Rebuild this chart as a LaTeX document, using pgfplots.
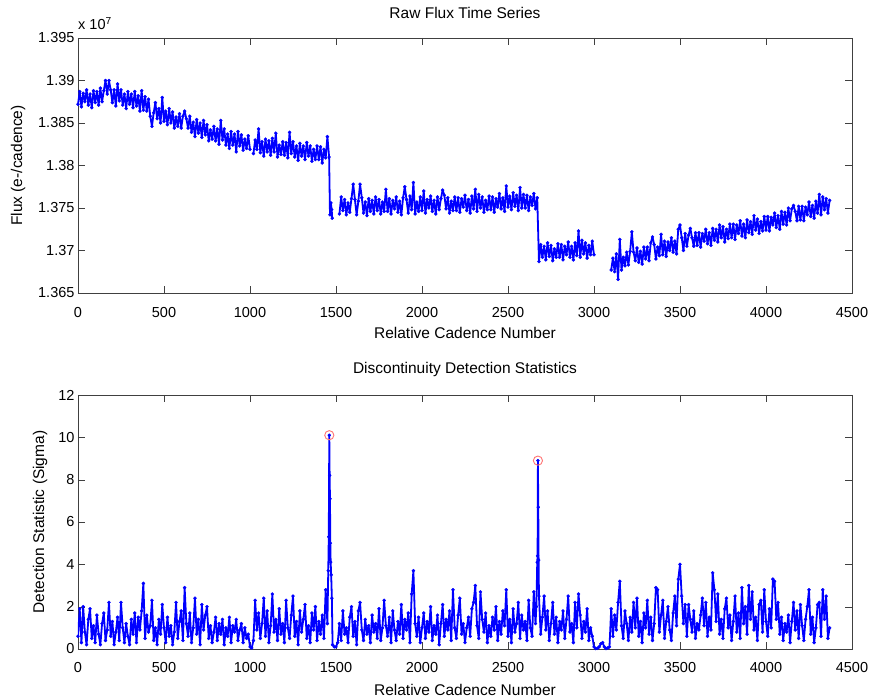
\documentclass[border=0pt]{standalone}
\usepackage{fontspec}
\setmainfont{Liberation Sans}
\usepackage{pgfplots}
\pgfplotsset{compat=1.18}

\pgfplotsset{
  matlab/.style={
    scale only axis, width=774pt,
    xmin=0, xmax=4500, xtick={0,500,...,4500},
    tick align=inside, major tick length=7pt,
    axis line style={black!75}, tick style={black!75},
    every tick label/.append style={font=\fontsize{14.5}{17}\selectfont},
    label style={font=\fontsize{15.5}{18}\selectfont},
    title style={font=\fontsize{15.5}{18}\selectfont},
    /pgf/number format/assume math mode=true,
    /pgf/number format/set thousands separator={},
  },
  raw/.style={color=blue, line width=1.8pt, line join=round, mark=*, mark size=1.6pt,
    mark options={draw=blue, fill=blue, line width=0.3pt}},
}

\begin{document}
\begin{tikzpicture}
\path[use as bounding box] (-78pt,-407pt) rectangle (795pt,293pt);

% top panel
\begin{axis}[matlab, height=255pt,
  ymin=1.365, ymax=1.395,
  ytick={1.365,1.37,1.375,1.38,1.385,1.39,1.395},
  yticklabel style={/pgf/number format/.cd, fixed, precision=3},
  xticklabel style={yshift=-11pt},
  title={Raw Flux Time Series},
  title style={at={(axis description cs:0.5,1.0745)}, anchor=center},
  xlabel={Relative Cadence Number},
  xlabel style={at={(axis description cs:0.5,-0.157)}, anchor=center},
  ylabel={Flux (e-/cadence)},
  ylabel style={at={(axis description cs:-0.0775,0.5)}, anchor=center},
  clip=false]
\addplot[raw] coordinates {
(0,1.3872)(10,1.3887)(20,1.3869)(30,1.3885)(40,1.3875)(50,1.3889)(60,1.3871)(70,1.3884)(80,1.3868)(90,1.3888)
(100,1.3874)(110,1.3887)(120,1.3871)(130,1.3891)(140,1.3875)(150,1.3888)(160,1.3900)(170,1.3884)(180,1.3900)(190,1.3889)
(200,1.3874)(210,1.3889)(220,1.3870)(230,1.3896)(240,1.3876)(250,1.3889)(260,1.3871)(270,1.3884)(280,1.3867)(290,1.3887)
(300,1.3872)(310,1.3884)(320,1.3868)(330,1.3887)(340,1.3870)(350,1.3882)(360,1.3864)(370,1.3888)(380,1.3865)(390,1.3881)
(400,1.3864)(410,1.3878)(420,1.3858)(430,1.3846)(440,1.3862)(450,1.3874)(460,1.3855)(470,1.3867)(480,1.3850)(490,1.3880)
(500,1.3852)(510,1.3864)(520,1.3848)(530,1.3867)(540,1.3850)(550,1.3863)(560,1.3844)(570,1.3857)(580,1.3846)(590,1.3861)
(600,1.3844)(610,1.3858)(620,1.3864)(630,1.3855)(640,1.3844)(650,1.3858)(660,1.3839)(670,1.3851)(680,1.3834)(690,1.3854)
(700,1.3838)(710,1.3850)(720,1.3833)(730,1.3853)(740,1.3836)(750,1.3848)(760,1.3829)(770,1.3842)(780,1.3831)(790,1.3846)
(800,1.3829)(810,1.3843)(820,1.3825)(830,1.3853)(840,1.3830)(850,1.3843)(860,1.3824)(870,1.3837)(880,1.3820)(890,1.3840)
(900,1.3824)(910,1.3837)(920,1.3816)(930,1.3840)(940,1.3823)(950,1.3836)(960,1.3818)(970,1.3831)(980,1.3820)(990,1.3835)
(1000,1.3819)};
\addplot[raw] coordinates {
(1020,1.3814)(1030,1.3830)(1040,1.3819)(1050,1.3843)(1060,1.3815)(1070,1.3828)(1080,1.3811)(1090,1.3831)
(1100,1.3816)(1110,1.3829)(1120,1.3812)(1130,1.3832)(1140,1.3816)(1150,1.3838)(1160,1.3810)(1170,1.3824)(1180,1.3813)(1190,1.3828)
(1200,1.3812)(1210,1.3827)(1220,1.3809)(1230,1.3839)(1240,1.3814)(1250,1.3828)(1260,1.3810)(1270,1.3823)(1280,1.3806)(1290,1.3826)
(1300,1.3811)(1310,1.3823)(1320,1.3807)(1330,1.3827)(1340,1.3811)(1350,1.3823)(1360,1.3805)(1370,1.3819)(1380,1.3807)(1390,1.3823)
(1400,1.3807)(1410,1.3822)(1420,1.3803)(1430,1.3819)(1440,1.3809)(1450,1.3834)(1460,1.3810)
(1465,1.3742)(1470,1.3756)(1475,1.3748)(1478,1.3738)};
\addplot[raw] coordinates {
(1520,1.3743)(1530,1.3763)(1540,1.3747)(1550,1.3760)(1560,1.3742)(1570,1.3756)(1580,1.3745)(1590,1.3761)
(1600,1.3778)(1610,1.3760)(1620,1.3742)(1630,1.3758)(1640,1.3778)(1650,1.3762)(1660,1.3744)(1670,1.3757)(1680,1.3741)(1690,1.3761)
(1700,1.3746)(1710,1.3759)(1720,1.3743)(1730,1.3763)(1740,1.3747)(1750,1.3760)(1760,1.3743)(1770,1.3757)(1780,1.3746)(1790,1.3772)
(1800,1.3746)(1810,1.3761)(1820,1.3743)(1830,1.3759)(1840,1.3749)(1850,1.3763)(1860,1.3745)(1870,1.3758)(1880,1.3742)(1890,1.3762)
(1900,1.3775)(1910,1.3760)(1920,1.3744)(1930,1.3764)(1940,1.3748)(1950,1.3780)(1960,1.3743)(1970,1.3757)(1980,1.3746)(1990,1.3763)
(2000,1.3747)(2010,1.3770)(2020,1.3744)(2030,1.3760)(2040,1.3750)(2050,1.3764)(2060,1.3746)(2070,1.3759)(2080,1.3743)(2090,1.3763)
(2100,1.3748)(2110,1.3761)(2120,1.3771)(2130,1.3765)(2140,1.3749)(2150,1.3762)(2160,1.3744)(2170,1.3758)(2180,1.3747)(2190,1.3763)
(2200,1.3747)(2210,1.3762)(2220,1.3745)(2230,1.3761)(2240,1.3751)(2250,1.3765)(2260,1.3747)(2270,1.3760)(2280,1.3744)(2290,1.3764)
(2300,1.3749)(2310,1.3772)(2320,1.3746)(2330,1.3766)(2340,1.3750)(2350,1.3763)(2360,1.3745)(2370,1.3759)(2380,1.3748)(2390,1.3764)
(2400,1.3748)(2410,1.3763)(2420,1.3745)(2430,1.3761)(2440,1.3751)(2450,1.3767)(2460,1.3749)(2470,1.3762)(2480,1.3746)(2490,1.3776)
(2500,1.3751)(2510,1.3764)(2520,1.3748)(2530,1.3768)(2540,1.3752)(2550,1.3765)(2560,1.3747)(2570,1.3774)(2580,1.3750)(2590,1.3766)
(2600,1.3750)(2610,1.3765)(2620,1.3747)(2630,1.3763)(2640,1.3753)(2650,1.3767)(2660,1.3749)(2670,1.3762)
(2680,1.3687)(2690,1.3707)(2700,1.3692)(2710,1.3705)(2720,1.3689)(2730,1.3709)(2740,1.3693)(2750,1.3706)(2760,1.3688)(2770,1.3702)
(2780,1.3692)(2790,1.3708)(2800,1.3692)(2810,1.3707)(2820,1.3689)(2830,1.3705)(2840,1.3695)(2850,1.3710)(2860,1.3692)(2870,1.3705)
(2880,1.3689)(2890,1.3709)(2900,1.3694)(2910,1.3723)(2920,1.3692)(2930,1.3712)(2940,1.3696)(2950,1.3709)(2960,1.3691)(2970,1.3706)
(2980,1.3695)(2990,1.3711)(3000,1.3695)};
\addplot[raw] coordinates {
(3100,1.3677)(3110,1.3691)(3120,1.3675)(3130,1.3696)(3140,1.3666)(3150,1.3713)(3160,1.3677)(3170,1.3692)(3180,1.3682)(3190,1.3698)
(3200,1.3683)(3210,1.3699)(3220,1.3722)(3230,1.3698)(3240,1.3688)(3250,1.3703)(3260,1.3686)(3270,1.3699)(3280,1.3684)(3290,1.3704)
(3300,1.3690)(3310,1.3704)(3320,1.3688)(3330,1.3709)(3340,1.3716)(3350,1.3707)(3360,1.3690)(3370,1.3704)(3380,1.3694)(3390,1.3719)
(3400,1.3695)(3410,1.3711)(3420,1.3693)(3430,1.3710)(3440,1.3700)(3450,1.3715)(3460,1.3698)(3470,1.3711)(3480,1.3696)(3490,1.3725)
(3500,1.3730)(3510,1.3715)(3520,1.3700)(3530,1.3720)(3540,1.3705)(3550,1.3718)(3560,1.3726)(3570,1.3715)(3580,1.3705)(3590,1.3721)
(3600,1.3706)(3610,1.3721)(3620,1.3704)(3630,1.3720)(3640,1.3711)(3650,1.3725)(3660,1.3708)(3670,1.3721)(3680,1.3706)(3690,1.3726)
(3700,1.3712)(3710,1.3725)(3720,1.3710)(3730,1.3730)(3740,1.3715)(3750,1.3728)(3760,1.3710)(3770,1.3725)(3780,1.3714)(3790,1.3731)
(3800,1.3715)(3810,1.3731)(3820,1.3713)(3830,1.3730)(3840,1.3720)(3850,1.3735)(3860,1.3717)(3870,1.3731)(3880,1.3715)(3890,1.3736)
(3900,1.3721)(3910,1.3734)(3920,1.3719)(3930,1.3741)(3940,1.3724)(3950,1.3737)(3960,1.3720)(3970,1.3734)(3980,1.3723)(3990,1.3740)
(4000,1.3724)(4010,1.3740)(4020,1.3723)(4030,1.3739)(4040,1.3730)(4050,1.3744)(4060,1.3727)(4070,1.3741)(4080,1.3725)(4090,1.3746)
(4100,1.3731)(4110,1.3745)(4120,1.3730)(4130,1.3750)(4140,1.3735)(4150,1.3749)(4160,1.3753)(4170,1.3746)(4180,1.3735)(4190,1.3752)
(4200,1.3736)(4210,1.3752)(4220,1.3735)(4230,1.3751)(4240,1.3742)(4250,1.3757)(4260,1.3740)(4270,1.3753)(4280,1.3738)(4290,1.3758)
(4300,1.3744)(4310,1.3766)(4320,1.3742)(4330,1.3763)(4340,1.3748)(4350,1.3761)(4360,1.3744)(4370,1.3759)};
\node[anchor=south west, inner sep=0pt, font=\fontsize{14.5}{17}\selectfont]
  at ([yshift=8pt]rel axis cs:0,1) {x 10\textsuperscript{7}};
\end{axis}

% bottom panel
\begin{axis}[matlab, height=254pt, at={(0,-356pt)},
  ymin=0, ymax=12, ytick={0,2,...,12},
  xticklabel style={yshift=-10pt},
  title={Discontinuity Detection Statistics},
  title style={at={(axis description cs:0.5,1.078)}, anchor=center},
  xlabel={Relative Cadence Number},
  xlabel style={at={(axis description cs:0.5,-0.161)}, anchor=center},
  ylabel={Detection Statistic (Sigma)},
  ylabel style={at={(axis description cs:-0.049,0.5)}, anchor=center}]
\addplot[raw] coordinates {
(0,0.6)(10,1.9)(20,0.3)(30,2.0)(40,0.8)(50,0.2)(60,1.4)(70,1.9)(80,0.5)(90,1.1)
(100,0.3)(110,1.6)(120,0.7)(130,0.2)(140,1.2)(150,1.7)(160,0.4)(170,0.9)(180,2.2)(190,0.6)
(200,1.3)(210,0.2)(220,0.8)(230,1.5)(240,0.4)(250,2.2)(260,1.0)(270,0.3)(280,1.2)(290,0.6)
(300,0.2)(310,1.4)(320,0.7)(330,1.7)(340,0.3)(350,1.5)(360,0.9)(370,1.8)(380,3.1)(390,0.5)
(400,1.6)(410,0.8)(420,1.1)(430,2.3)(440,0.4)(450,1.0)(460,0.2)(470,1.4)(480,0.7)(490,2.1)
(500,1.0)(510,0.3)(520,1.5)(530,0.6)(540,1.1)(550,0.2)(560,0.8)(570,2.2)(580,0.5)(590,1.3)
(600,1.8)(610,0.4)(620,2.9)(630,1.2)(640,0.6)(650,1.7)(660,0.3)(670,1.0)(680,2.4)(690,0.7)
(700,1.4)(710,0.2)(720,2.1)(730,0.9)(740,1.6)(750,2.0)(760,0.5)(770,1.1)(780,0.3)(790,0.8)
(800,1.5)(810,0.4)(820,1.2)(830,0.7)(840,1.4)(850,0.2)(860,1.0)(870,0.6)(880,1.5)(890,0.3)
(900,1.1)(910,0.8)(920,1.4)(930,0.4)(940,0.9)(950,1.2)(960,0.3)(970,1.0)(980,0.5)(990,0.7)
(1000,0.1)(1010,0.05)(1020,0.4)(1030,2.3)(1040,0.9)(1050,1.7)(1060,0.5)(1070,1.2)(1080,2.4)(1090,0.6)
(1100,1.8)(1110,0.3)(1120,1.1)(1130,2.6)(1140,0.8)(1150,1.4)(1160,0.4)(1170,1.9)(1180,0.7)(1190,1.2)
(1200,0.3)(1210,2.3)(1220,1.0)(1230,0.5)(1240,1.6)(1250,2.5)(1260,0.6)(1270,1.3)(1280,0.2)(1290,1.8)
(1300,0.8)(1310,1.4)(1320,2.1)(1330,0.5)(1340,1.1)(1350,0.3)(1360,1.7)(1370,0.9)(1380,2.0)(1390,0.4)
(1400,1.3)(1410,0.7)(1420,1.6)(1430,0.5)(1440,2.8)(1450,1.2)(1455,3.7)(1458,5.3)(1461,10.1)(1463,8.2)
(1465,7.1)(1467,5.0)(1469,4.1)(1472,3.5)(1476,2.4)(1480,0.2)(1490,0.1)(1500,0.1)(1510,0.3)
(1520,1.2)(1530,0.4)(1540,1.8)(1550,0.7)(1560,1.0)(1570,0.3)(1580,1.5)(1590,2.0)
(1600,0.6)(1610,1.3)(1620,0.2)(1630,1.8)(1640,2.2)(1650,0.9)(1660,0.4)(1670,1.4)(1680,0.7)(1690,1.1)
(1700,0.3)(1710,1.6)(1720,0.8)(1730,1.2)(1740,0.5)(1750,1.9)(1760,0.4)(1770,1.0)(1780,2.3)(1790,1.1)
(1800,0.6)(1810,1.5)(1820,0.3)(1830,1.8)(1840,0.9)(1850,0.4)(1860,1.3)(1870,0.7)(1880,2.1)(1890,0.5)
(1900,1.4)(1910,0.9)(1920,1.7)(1930,0.3)(1940,2.6)(1950,3.7)(1960,1.2)(1970,0.6)(1980,1.5)(1990,0.3)
(2000,1.0)(2010,1.7)(2020,0.5)(2030,1.3)(2040,0.8)(2050,2.0)(2060,0.4)(2070,1.1)(2080,0.7)(2090,1.6)
(2100,0.2)(2110,1.2)(2120,2.1)(2130,0.6)(2140,1.4)(2150,0.9)(2160,1.8)(2170,0.4)(2180,2.8)(2190,1.0)
(2200,0.5)(2210,1.6)(2220,2.4)(2230,0.7)(2240,1.2)(2250,0.3)(2260,1.0)(2270,1.5)(2280,0.6)(2290,1.9)
(2300,2.2)(2310,3.0)(2320,1.1)(2330,0.5)(2340,2.7)(2350,1.4)(2360,0.8)(2370,1.7)(2380,0.3)(2390,1.1)
(2400,0.6)(2410,1.5)(2420,0.9)(2430,2.0)(2440,0.4)(2450,1.3)(2460,0.7)(2470,1.8)(2480,1.1)(2490,2.8)
(2500,0.6)(2510,1.4)(2520,0.3)(2530,1.9)(2540,0.8)(2550,1.2)(2560,2.2)(2570,0.5)(2580,1.6)(2590,0.9)
(2600,1.3)(2610,0.4)(2620,2.3)(2630,1.0)(2640,0.6)(2650,2.7)(2660,1.2)(2665,2.0)(2670,4.1)(2672,4.4)
(2674,8.9)(2676,6.7)(2678,4.2)(2680,2.5)(2690,0.7)
(2700,1.5)(2710,2.5)(2720,0.9)(2730,1.8)(2740,0.4)(2750,1.2)(2760,2.2)(2770,0.7)(2780,1.5)(2790,0.3)
(2800,1.3)(2810,0.9)(2820,1.8)(2830,0.5)(2840,1.4)(2850,2.5)(2860,0.8)(2870,1.2)(2880,0.3)(2890,2.2)
(2900,1.0)(2910,2.6)(2920,1.6)(2930,0.5)(2940,1.3)(2950,0.8)(2960,1.9)(2970,0.4)(2980,1.0)(2990,0.6)
(3000,0.1)(3010,0.02)(3020,0.03)(3030,0.1)(3040,0.25)(3050,0.3)(3060,0.1)(3070,0.02)(3080,0.05)(3090,0.1)
(3100,1.9)(3110,0.6)(3120,1.6)(3130,0.9)(3140,2.2)(3150,3.2)(3160,1.1)(3170,0.5)(3180,1.8)(3190,1.2)
(3200,0.4)(3210,1.5)(3220,0.8)(3230,2.2)(3240,1.0)(3250,2.4)(3260,0.6)(3270,1.3)(3280,0.3)(3290,1.7)
(3300,1.0)(3310,2.3)(3320,0.7)(3330,1.5)(3340,0.4)(3350,1.2)(3360,2.9)(3370,2.8)(3380,0.8)(3390,1.6)
(3400,2.3)(3410,0.5)(3420,1.3)(3430,2.0)(3440,0.9)(3450,0.4)(3460,1.7)(3470,2.5)(3480,1.1)(3490,3.3)
(3500,4.0)(3510,2.5)(3520,1.2)(3530,2.1)(3540,0.6)(3550,2.1)(3560,1.4)(3570,0.8)(3580,1.8)(3590,0.5)
(3600,1.2)(3610,0.9)(3620,1.6)(3630,2.4)(3640,1.1)(3650,2.2)(3660,0.6)(3670,1.5)(3680,0.9)(3690,3.6)
(3700,2.8)(3710,1.3)(3720,2.6)(3730,0.7)(3740,1.4)(3750,0.5)(3760,1.9)(3770,2.4)(3780,1.0)(3790,1.6)
(3800,0.4)(3810,1.3)(3820,2.5)(3830,0.8)(3840,1.7)(3850,0.5)(3860,2.9)(3870,1.2)(3880,2.0)(3890,0.7)
(3900,3.0)(3910,1.4)(3920,2.7)(3930,0.9)(3940,1.5)(3950,0.4)(3960,2.1)(3970,2.3)(3980,0.8)(3990,2.8)
(4000,1.3)(4010,0.6)(4020,1.9)(4030,1.0)(4040,3.3)(4050,3.2)(4060,1.4)(4070,2.2)(4080,0.7)(4090,1.5)
(4100,0.4)(4110,1.2)(4120,0.8)(4130,1.6)(4140,0.3)(4150,1.3)(4160,2.2)(4170,0.9)(4180,1.8)(4190,0.5)
(4200,2.1)(4210,1.1)(4220,0.4)(4230,1.4)(4240,2.0)(4250,2.8)(4260,0.7)(4270,1.5)(4280,0.3)(4290,1.0)
(4300,2.1)(4310,2.2)(4320,0.6)(4330,2.8)(4340,1.4)(4350,2.5)(4360,0.5)(4370,1.0)};
\addplot[only marks, mark=o, mark size=4.6pt, red!55, line width=0.9pt] coordinates {(1461,10.1)(2674,8.9)};
\end{axis}
\end{tikzpicture}
\end{document}
